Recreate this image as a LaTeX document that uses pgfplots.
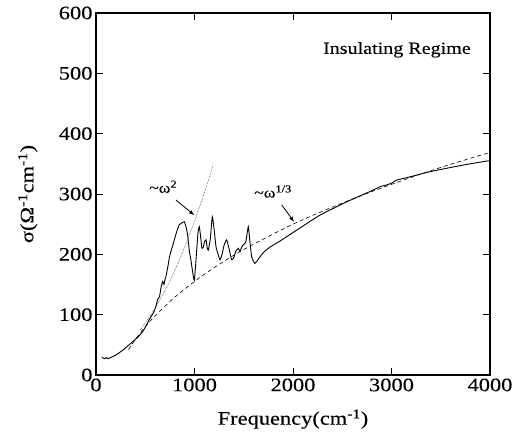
\documentclass[border=0pt]{standalone}
\usepackage{fontspec}
\setmainfont{Liberation Serif}[FakeStretch=1.18, FakeBold=0.2]
\usepackage{pgfplots}
\pgfplotsset{compat=1.18}
\begin{document}
\begin{tikzpicture}
\begin{axis}[
  at={(0,0)}, anchor=south west,
  width=394pt, height=362pt, scale only axis,
  xmin=0, xmax=4000, ymin=0, ymax=600,
  xtick={0,1000,2000,3000,4000},
  ytick={0,100,200,300,400,500,600},
  tick align=inside, major tick length=7pt,
  axis line style={line width=1.1pt},
  tick style={line width=0.9pt, black},
  /pgf/number format/assume math mode=true,
  scaled x ticks=false,
  xticklabel style={/pgf/number format/1000 sep={}, font=\fontsize{19}{19}\selectfont},
  yticklabel style={font=\fontsize{19}{19}\selectfont},
  xlabel={Frequency(cm\textsuperscript{-1})},
  ylabel={σ(Ω\textsuperscript{-1}cm\textsuperscript{-1})},
  x label style={at={(axis description cs:0.5,-0.122)}, anchor=center, font=\fontsize{19}{19}\selectfont},
  y label style={at={(axis description cs:-0.173,0.5)}, anchor=center, font=\fontsize{19}{19}\selectfont},
  clip=false,
]
% measured conductivity
\addplot[black, line width=0.9pt, smooth, tension=0.3] coordinates {
(60,30)(75,28)(90,27)(105,29)(120,27)(150,29)(200,33)(271,41)(350,52)(420,62)
(474,72)(510,82)(541,92)(565,98)(592,106)(610,115)(626,125)(645,130)(660,145)
(677,155)(690,150)(700,158)(710,163)(730,180)(745,195)(761,205)(780,215)(795,224)
(820,238)(846,249)(870,252)(896,254)(915,245)(930,232)(948,205)(964,190)(980,172)
(998,157)(1015,190)(1035,235)(1049,246)(1065,225)(1076,210)(1090,212)(1100,220)
(1117,224)(1130,210)(1140,207)(1160,225)(1181,262)(1200,240)(1218,213)(1240,200)
(1259,191)(1280,200)(1300,215)(1326,224)(1350,210)(1377,191)(1400,195)(1420,205)
(1445,210)(1460,205)(1480,212)(1495,216)(1520,220)(1546,246)(1560,225)(1580,196)
(1600,188)(1614,185)(1640,190)(1665,196)(1700,203)(1766,212)(1868,222)(2037,240)
(2274,265)(2545,287)(2781,304)(2883,312)(2950,315)(3000,318)(3050,323)(3100,325)
(3200,329)(3390,337)(3728,348)(3982,355)(4000,355)
};
% omega^{1/3} fit
\addplot[black, line width=0.6pt, dash pattern=on 4pt off 3pt, smooth] coordinates {
(330,42)(400,59)(500,80)(600,98)(800,129)(1000,155)(1200,178)(1500,208)
(2000,250)(2500,285)(3000,316)(3500,344)(4000,369)
};
% omega^2 fit
\addplot[black!85, line width=0.55pt, densely dotted, smooth] coordinates {
(450,75)(550,98)(650,125)(750,156)(850,192)(950,233)(1050,278)(1150,327)(1190,348)
};
\node[font=\fontsize{17}{17}\selectfont] at (axis cs:3055,539) {Insulating Regime};
\node[font=\fontsize{15}{15}\selectfont] at (axis cs:682,312) {\textasciitilde ω\textsuperscript{2}};
\draw[-latex, line width=0.8pt] (axis cs:812,290) -- (axis cs:998,265);
\node[font=\fontsize{15}{15}\selectfont] at (axis cs:1797,304) {\textasciitilde ω\textsuperscript{1/3}};
\draw[-latex, line width=0.8pt] (axis cs:1885,282) -- (axis cs:2010,254);
\end{axis}
\path[use as bounding box] (-96pt,-67pt) rectangle (425pt,375pt);
\end{tikzpicture}
\end{document}
